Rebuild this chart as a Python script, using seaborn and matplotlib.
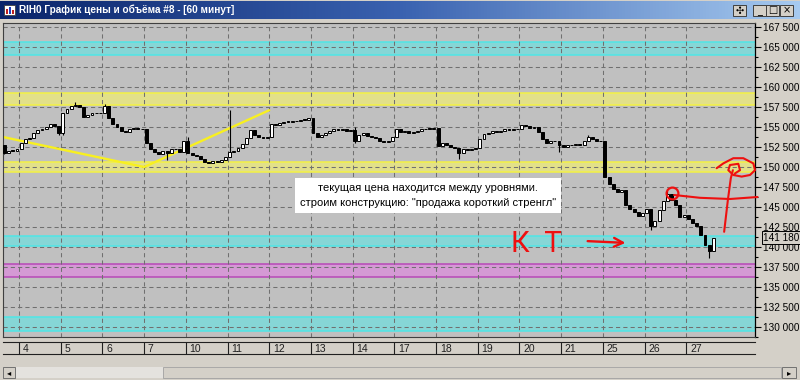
import numpy as np
import pandas as pd
import matplotlib
matplotlib.use("Agg")
import matplotlib.pyplot as plt
import seaborn as sns
from matplotlib.colors import LinearSegmentedColormap
from matplotlib.patches import Rectangle
from matplotlib.ticker import MultipleLocator, FixedLocator

# ---------------- data ----------------
title = "RIH0 График цены и объёма #8 - [60 минут]"
day_labels = ["4", "5", "6", "7", "10", "11", "12", "13", "14", "17",
              "18", "19", "20", "21", "25", "26", "27"]

first_open = 152800
close_d3 = [151800, 152000, 152000, 152200]
close_d4 = [153000, 153500, 153600, 154300, 154600, 154700, 155000, 155400, 155100, 154300]
close_d5 = [156800, 157300, 157600, 157800, 157500, 156300, 156500, 156700, 156700, 156800]
close_d6 = [157600, 156100, 155400, 155000, 154500, 154400, 154800, 154900, 154700, 154700]
close_d7 = [153000, 152200, 151900, 151600, 152000, 151700, 152200, 152300, 151900, 153200]
close_d10 = [151700, 151500, 151400, 151000, 150600, 150500, 150700, 150600, 150900, 151300]
close_d11 = [151900, 152000, 152400, 152900, 153600, 154600, 154000, 153800, 153600, 153700]
close_d12 = [155400, 155300, 155500, 155600, 155600, 155700, 155800, 155900, 155900, 156100]
close_d13 = [154300, 153700, 154000, 154300, 154500, 154800, 154600, 154700, 154500, 154600]
close_d14 = [153300, 154000, 154200, 153900, 153800, 153600, 153200, 153100, 153200, 153800]
close_d17 = [154800, 154400, 154500, 154300, 154400, 154500, 154700, 154800, 154800, 154900]
close_d18 = [152600, 153000, 152800, 152500, 152400, 151800, 152300, 152100, 152300, 152400]
close_d19 = [153500, 154100, 154300, 154500, 154400, 154500, 154700, 154600, 154700, 154800]
close_d20 = [155300, 155100, 154900, 155000, 154400, 153500, 153000, 153200, 153300, 152700]
close_d21 = [152500, 152800, 152700, 152900, 152700, 153200, 153700, 153500, 153300, 153200]
close_d25 = [148800, 147900, 147200, 146900, 147100, 145300, 144700, 144400, 143900, 144200]
close_d26 = [144800, 142600, 143200, 144600, 145700, 146600, 145900, 145300, 143800, 144000]
close_d27 = [143500, 143000, 142600, 141500, 140300, 139500, 141180]

# notable wick extremes: candle number -> price
wick_high = {17: 158100, 24: 157900, 44: 153700, 54: 157100, 84: 155000,
             140: 154000, 159: 147000}
wick_low = {0: 151600, 13: 154000, 14: 154000, 39: 150900, 84: 153000,
            109: 151000, 133: 151900, 155: 142100, 169: 138600}

last_price = 141180

# horizontal level bands (low, high)
cyan_bands = [(164000, 165600), (140100, 141400), (129500, 131250)]
yellow_bands = [(157750, 159250), (149400, 150600)]
magenta_bands = [(136250, 137850)]

# yellow trend line (candle number, price)
trend_x = [-0.35, 33.5, 63.5]
trend_y = [153750, 150000, 157100]

# note text
note_text = "текущая цена находится между уровнями.\nстроим конструкцию: \"продажа короткий стренгл\""
note_pos = (101.5, 146450)

# red hand-drawn marks (candle number, price)
kt_text = "К  Т"
kt_pos = (127.6, 140350)
arrow_from = (139.2, 140750)
arrow_to = (149.6, 140500)
circle_pos = (160.1, 146750)
red_h_x = [160.6, 166.8, 174.0, 180.6]
red_h_y = [146500, 146150, 146000, 146250]
red_v_x = [172.6, 173.5, 174.2, 174.7]
red_v_y = [141900, 145900, 148600, 149600]
scrib_x = [170.8, 172.4, 174.8, 177.2, 179.6, 180.0, 178.8, 176.8, 174.8, 173.6, 174.0, 176.0, 176.4, 175.2]
scrib_y = [149850, 150450, 151100, 151100, 150450, 149600, 149000, 148800, 149000, 149600, 150250, 150400, 149600, 149200]

# ---------------- build candles ----------------
day_closes = [close_d4, close_d5, close_d6, close_d7, close_d10, close_d11, close_d12,
              close_d13, close_d14, close_d17, close_d18, close_d19, close_d20, close_d21,
              close_d25, close_d26, close_d27]
closes = list(close_d3)
day_starts = []
for dc in day_closes:
    day_starts.append(len(closes))
    closes.extend(dc)
opens = [first_open] + closes[:-1]
df = pd.DataFrame({"n": np.arange(len(closes)), "open": opens, "close": closes})
df["top"] = df[["open", "close"]].max(axis=1)
df["bot"] = df[["open", "close"]].min(axis=1)
df["high"] = [wick_high.get(i, t) for i, t in zip(df["n"], df["top"])]
df["low"] = [wick_low.get(i, b) for i, b in zip(df["n"], df["bot"])]
df["up"] = df["close"] > df["open"]
boundaries = [s - 0.5 for s in day_starts]

# ---------------- styling ----------------
sns.set_theme(style="ticks")
plt.rcParams['font.family'] = ['Liberation Sans', 'DejaVu Sans']

W, H = 800, 380
FRAME = "#d4d0c8"
PLOT_BG = "#c0c0c0"
fig = plt.figure(figsize=(8, 3.8), dpi=100, facecolor=FRAME)

def frac(x0, y0, x1, y1):
    return [x0 / W, 1 - y1 / H, (x1 - x0) / W, (y1 - y0) / H]

XL = (-0.35, 180.0)
YL = (128750, 168000)

ax = fig.add_axes(frac(3, 23, 755, 337))
ax.set_facecolor(PLOT_BG)
ax.set_xlim(*XL)
ax.set_ylim(*YL)

# bands
def band(lo, hi, fill, edge):
    ax.axhspan(lo, hi, color=fill, lw=0, zorder=1)
    ax.axhline(lo, color=edge, lw=1.1, zorder=1.2)
    ax.axhline(hi, color=edge, lw=1.1, zorder=1.2)

for lo, hi in cyan_bands:
    band(lo, hi, "#86d6d6", "#4fe6e6")
for lo, hi in yellow_bands:
    band(lo, hi, "#e2e08a", "#f4f244")
for lo, hi in magenta_bands:
    band(lo, hi, "#d49ad4", "#b848b8")

# grid
ax.yaxis.set_major_locator(MultipleLocator(2500))
ax.yaxis.set_minor_locator(MultipleLocator(1250))
ax.xaxis.set_major_locator(FixedLocator(boundaries))
ax.set_axisbelow("line")
ax.grid(True, which="major", color="#707070", lw=0.75, ls=(0, (4, 3)))

# trend line
sns.lineplot(x=trend_x, y=trend_y, ax=ax, color="#f8f020", lw=1.7, zorder=2.5,
             sort=False, estimator=None)

# candles
ax.vlines(df["n"], df["low"], df["high"], color="black", lw=0.8, zorder=3)
heights = np.maximum(df["top"] - df["bot"], 110)
ax.bar(df["n"], heights, bottom=df["bot"], width=0.7,
       color=np.where(df["up"], "white", "black"), edgecolor="black",
       linewidth=0.7, zorder=4)

# note box
ax.text(note_pos[0], note_pos[1], note_text, ha="center", va="center", fontsize=8,
        linespacing=1.55, color="black", zorder=6,
        bbox=dict(boxstyle="square,pad=0.45", fc="white", ec="none"))

# red marks
RED = "#ee1010"
ax.text(kt_pos[0], kt_pos[1], kt_text, ha="center", va="center", fontsize=21,
        color=RED, family=["Roboto", "DejaVu Sans"], fontweight="normal", zorder=7)
ax.annotate("", xy=arrow_to, xytext=arrow_from,
            arrowprops=dict(arrowstyle="->", color=RED, lw=1.7, mutation_scale=16),
            zorder=7)
ax.plot([circle_pos[0]], [circle_pos[1]], marker="o", ms=8.5, mfc="none", mec=RED,
        mew=1.6, zorder=7)
ax.plot(red_h_x, red_h_y, color=RED, lw=1.5, zorder=7, clip_on=False)
ax.plot(red_v_x, red_v_y, color=RED, lw=1.5, zorder=7)
ax.plot(scrib_x, scrib_y, color=RED, lw=1.5, zorder=7, clip_on=False)

# axes decoration
ax.set_xticklabels([])
ax.tick_params(axis="x", length=0)
ax.yaxis.tick_right()
ax.yaxis.set_major_formatter(plt.FuncFormatter(lambda v, p: f"{int(v):,}".replace(",", " ")))
ax.tick_params(axis="y", which="major", direction="out", length=4, width=0.8,
               colors="black", labelsize=7.2, pad=2)
ax.tick_params(axis="y", which="minor", direction="out", length=2, width=0.8, colors="black")
ax.set_ylabel("")
ax.set_xlabel("")
for s in ["left", "top", "bottom"]:
    ax.spines[s].set_color("#404040")
    ax.spines[s].set_linewidth(0.8)
ax.spines["right"].set_color("black")
ax.spines["right"].set_linewidth(0.9)

# current price label
ax.annotate(f"{last_price:,}".replace(",", " "), xy=(1.0, last_price),
            xycoords=("axes fraction", "data"), xytext=(6, 0), textcoords="offset points",
            ha="left", va="center", fontsize=7.2, color="black", zorder=8,
            bbox=dict(boxstyle="square,pad=0.15", fc=FRAME, ec="black", lw=0.7),
            annotation_clip=False)

# ---------------- date strip ----------------
axd = fig.add_axes(frac(3, 342, 755, 354))
axd.set_facecolor(FRAME)
axd.set_xlim(*XL)
axd.set_ylim(0, 1)
axd.set_xticks([]); axd.set_yticks([])
for s in ["left", "right"]:
    axd.spines[s].set_visible(False)
for s in ["top", "bottom"]:
    axd.spines[s].set_color("#202020"); axd.spines[s].set_linewidth(0.8)
axd.vlines(boundaries, 0, 1, color="#202020", lw=0.8)
for b, lab in zip(boundaries, day_labels):
    axd.text(b + 0.9, 0.45, lab, ha="left", va="center", fontsize=7.5, color="#202020")

# ---------------- title bar ----------------
axt = fig.add_axes(frac(0, 1, 800, 19))
grad = np.linspace(0, 1, 256)[None, :]
cmap = LinearSegmentedColormap.from_list("tb", ["#0a246a", "#3a62b0", "#a6caf0"])
axt.imshow(grad, aspect="auto", cmap=cmap, extent=[0, 800, 19, 1])
axt.set_xlim(0, 800); axt.set_ylim(19, 1)
axt.axis("off")
axt.add_patch(Rectangle((4, 5), 11, 10, fc="white", ec="#404040", lw=0.6))
axt.add_patch(Rectangle((6, 9), 2, 5, fc="#c02020", ec="none"))
axt.add_patch(Rectangle((9, 7), 2, 7, fc="#2040c0", ec="none"))
axt.add_patch(Rectangle((12, 10), 2, 4, fc="#c02020", ec="none"))
axt.text(19, 10, title, color="white", fontsize=7.2, fontweight="bold",
         ha="left", va="center")
for x0, glyph in [(733, "✣"), (753, "_"), (766, "□"), (780, "×")]:
    axt.add_patch(Rectangle((x0, 4.5), 13, 11.5, fc=FRAME, ec="#404040", lw=0.7))
    axt.text(x0 + 6.5, 10.5, glyph, ha="center", va="center", fontsize=7,
             color="black", family=["DejaVu Sans"])

# ---------------- scrollbar ----------------
axs = fig.add_axes(frac(0, 366, 800, 379))
axs.set_xlim(0, 800); axs.set_ylim(379, 366)
axs.axis("off")
axs.add_patch(Rectangle((3, 367), 794, 11, fc="#ece9e4", ec="none"))
axs.add_patch(Rectangle((16, 367), 147, 11, fc="#e4e2de", ec="none", hatch="....",
                        lw=0))
axs.add_patch(Rectangle((163, 367), 618, 11, fc=FRAME, ec="#a0a0a0", lw=0.6))
axs.add_patch(Rectangle((3, 367), 12, 11, fc=FRAME, ec="#606060", lw=0.6))
axs.add_patch(Rectangle((782, 367), 14, 11, fc=FRAME, ec="#606060", lw=0.6))
axs.text(9, 372.5, "◂", ha="center", va="center", fontsize=6, color="black",
         family=["DejaVu Sans"])
axs.text(789, 372.5, "▸", ha="center", va="center", fontsize=6, color="black",
         family=["DejaVu Sans"])

fig.savefig("out.png", dpi=100, facecolor=FRAME)
